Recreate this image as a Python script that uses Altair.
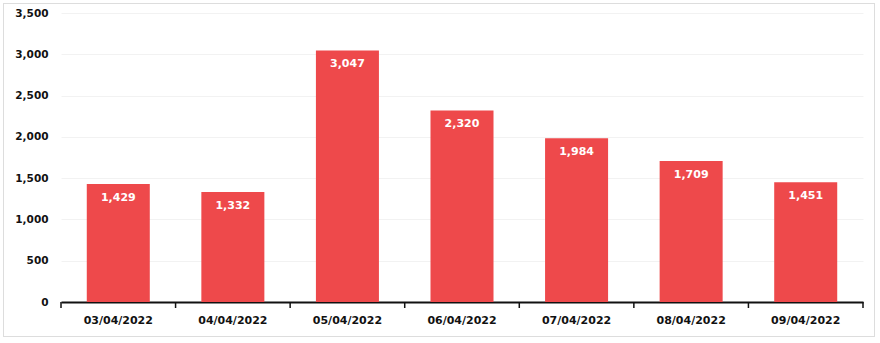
import altair as alt
import pandas as pd

dates = ["03/04/2022", "04/04/2022", "05/04/2022", "06/04/2022",
         "07/04/2022", "08/04/2022", "09/04/2022"]
values = [1429, 1332, 3047, 2320, 1984, 1709, 1451]

df = pd.DataFrame({"date": dates, "value": values})

FONT = "DejaVu Sans"
RED = "#EE494B"
INK = "#111111"

W, H = 802, 289
P_INNER = 0.45
P_OUTER = P_INNER / 2
xscale = alt.Scale(paddingInner=P_INNER, paddingOuter=P_OUTER)
# pixel gap between a bar edge and the category boundary
STEP = W / len(dates)
GAP = STEP * P_INNER / 2

x = alt.X("date:N", sort=dates, title=None, scale=xscale,
          axis=alt.Axis(labelAngle=0, labelFont=FONT, labelFontSize=11,
                        labelFontWeight="bold", labelColor=INK,
                        domainColor=INK, domainWidth=2, ticks=False,
                        labelPadding=12, grid=False))
y = alt.Y("value:Q", title=None,
          scale=alt.Scale(domain=[0, 3500], nice=False),
          axis=alt.Axis(values=list(range(0, 3501, 500)), format=",.0f",
                        labelFont=FONT, labelFontSize=10.5,
                        labelFontWeight="bold", labelColor=INK,
                        labelPadding=13, domain=False, ticks=False,
                        gridColor="#F2F2F2", gridWidth=1))

bars = alt.Chart(df).mark_bar(color=RED).encode(x=x, y=y)

labels = alt.Chart(df).mark_text(
    color="white", font=FONT, fontSize=11, fontWeight="bold",
    baseline="middle", dy=14
).encode(x=alt.X("date:N", sort=dates), y="value:Q",
         text=alt.Text("value:Q", format=",.0f"))

# category-boundary ticks below the x axis
ticks_start = alt.Chart(df).mark_rule(
    color=INK, strokeWidth=1.5, xOffset=-GAP
).encode(
    x=alt.X("date:N", sort=dates, bandPosition=0),
    y=alt.value(H), y2=alt.value(H + 6))
ticks_end = alt.Chart(df).transform_filter(
    alt.datum.date == dates[-1]
).mark_rule(color=INK, strokeWidth=1.5, xOffset=GAP).encode(
    x=alt.X("date:N", sort=dates, bandPosition=1),
    y=alt.value(H), y2=alt.value(H + 6))

border = alt.Chart(df).mark_rect(
    fill=None, stroke="#DDDDDD", strokeWidth=1
).encode(x=alt.value(-57.5), x2=alt.value(813.5),
         y=alt.value(-9.5), y2=alt.value(323.5))

chart = alt.layer(border, bars, labels, ticks_start, ticks_end).properties(
    width=W, height=H,
    autosize=alt.AutoSizeParams(type="none"),
    padding={"left": 61, "top": 13, "right": 17, "bottom": 41},
    background="white",
).configure_view(stroke=None)

chart.save("out.html", embed_options={"renderer": "svg", "actions": False})
